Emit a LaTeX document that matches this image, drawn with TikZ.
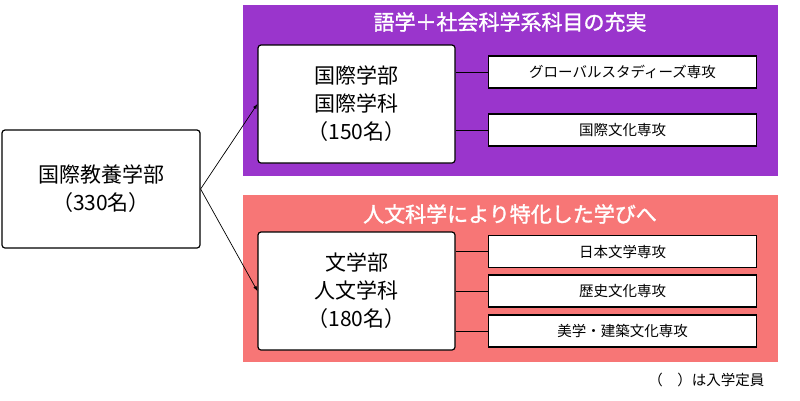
\documentclass[tikz,border=0pt]{standalone}
\usepackage{fontspec}
\setmainfont{Noto Sans CJK JP}
\newfontfamily\cjkb[FakeBold=1.5]{Noto Sans CJK JP}
\definecolor{purp}{HTML}{9A35CC}
\definecolor{pinkr}{HTML}{F77676}
\begin{document}
\begin{tikzpicture}[x=1pt,y=-1pt,
  big/.style={draw=black,line width=1.2pt,fill=white,rounded corners=3pt,align=center,font=\fontsize{21}{28}\selectfont,inner sep=0pt},
  small/.style={draw=black,line width=1.2pt,fill=white,minimum width=268pt,minimum height=32pt,font=\fontsize{14.5}{16}\selectfont,inner sep=0pt},
  panel/.style={inner sep=0pt,minimum width=535pt},
  ttl/.style={text=white,font=\cjkb\fontsize{21}{24}\selectfont},
  conn/.style={line width=0.7pt}]
\useasboundingbox (0,0) rectangle (800,400);
\node[panel,fill=purp,minimum height=171pt] (p1) at (510.5,90.5) {};
\node[panel,fill=pinkr,minimum height=167pt] (p2) at (510.5,278.5) {};
\node[ttl] (t1) at (510,22) {語学＋社会科学系科目の充実};
\node[ttl] (t2) at (510,214) {人文科学により特化した学びへ};
\node[big,minimum width=198pt,minimum height=118pt] (root) at (101,189) {国際教養学部\\（330名）};
\node[big,minimum width=197pt,minimum height=118pt] (a) at (356.5,104) {国際学部\\国際学科\\（150名）};
\node[big,minimum width=197pt,minimum height=118pt] (b) at (356.5,291) {文学部\\人文学科\\（180名）};
\node[small] (a1) at (622.5,72) {グローバルスタディーズ専攻};
\node[small] (a2) at (622.5,130) {国際文化専攻};
\node[small] (b1) at (622.5,251.5) {日本文学専攻};
\node[small] (b2) at (622.5,291) {歴史文化専攻};
\node[small] (b3) at (622.5,331) {美学・建築文化専攻};
\node[font=\fontsize{14.5}{16}\selectfont,anchor=east] (note) at (768,380) {（　）は入学定員};
\draw[conn,-latex] (root.east) -- (a.west);
\draw[conn,-latex] (root.east) -- (b.west);
\foreach \s/\t in {a/a1,a/a2,b/b1,b/b2,b/b3}
  \draw[conn] (\t.west) -- (\t.west -| \s.east);
\end{tikzpicture}
\end{document}
